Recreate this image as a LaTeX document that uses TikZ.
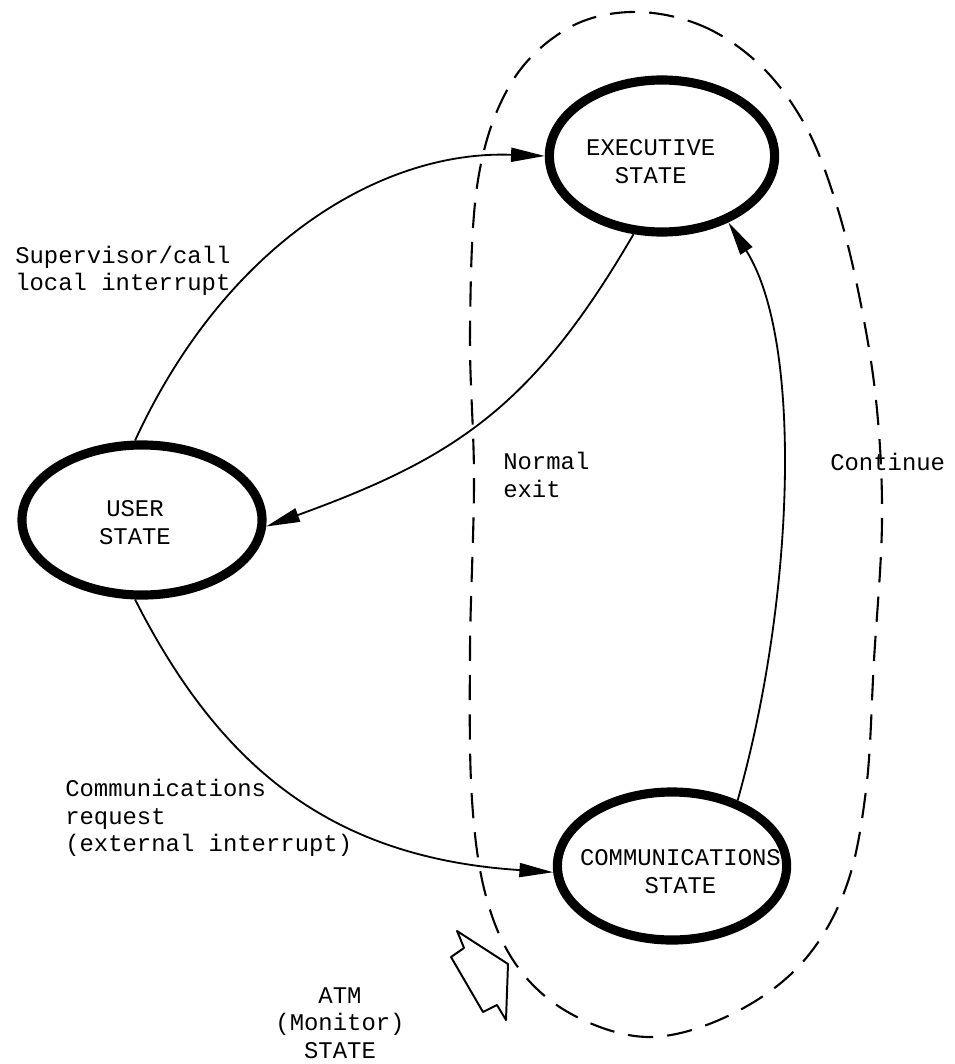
\documentclass[tikz,border=0pt]{standalone}
\usepackage{fontspec}
\setmonofont{Liberation Mono}
\usetikzlibrary{shapes.geometric,arrows.meta}

\begin{document}
\begin{tikzpicture}[x=0.025cm,y=-0.025cm,
    font=\ttfamily\fontsize{17}{19.6}\selectfont,
    >={Triangle[length=24pt,width=10pt]},
    state/.style={ellipse,draw,line width=6.5pt,inner sep=0pt,minimum height=3.75cm},
    link/.style={->,line width=1.3pt},
    note/.style={align=left,inner sep=0pt,anchor=west}]
  \useasboundingbox (0,0) rectangle (954,1064);
  % monitor region
  \draw[line width=1.5pt,dash pattern=on 18pt off 10pt]
    plot[smooth cycle,tension=0.6] coordinates {
      (630,12) (700,25) (760,65) (805,125) (835,200) (858,290) (876,400)
      (882,520) (874,660) (866,790) (845,890) (800,965) (730,1015)
      (650,1037) (575,1016) (520,970) (487,900) (472,800) (470,650)
      (474,480) (470,330) (478,180) (510,85) (565,30)};
  % states
  \node[state,minimum width=6cm,
    label={[align=center,xshift=-5pt,yshift=-2pt]center:USER\\STATE}] (user) at (142,520) {};
  \node[state,minimum width=5.63cm,minimum height=3.8cm,
    label={[align=center,xshift=-8pt,yshift=-4pt]center:EXECUTIVE\\STATE}] (exec) at (662,156) {};
  \node[state,minimum width=5.73cm,minimum height=3.7cm,
    label={[align=center,xshift=6pt,yshift=-4pt]center:COMMUNICATIONS\\STATE}] (comm) at (672,866) {};
  % transitions
  \draw[link] (user.95) .. controls (225,245) and (380,150) .. (exec.west);
  \draw[link] (exec.250) .. controls (533,407) and (455,458) .. (user.-3);
  \draw[link] (user.265) .. controls (221,769) and (333,858) .. (comm.183);
  \draw[link] (comm.45) .. controls (794,601) and (804,342) .. (exec.-45);
  % labels
  \node[note] (sup) at (15,271) {Supervisor/call\\local interrupt};
  \node[note] (req) at (65,818) {Communications\\request\\(external interrupt)};
  \node[note] (nex) at (503,475) {Normal\\exit};
  \node[note] (cont) at (830,462) {Continue};
  \node[align=center,inner sep=0pt] (atm) at (340,1023) {ATM\\(Monitor)\\STATE};
  % hollow pointer
  \draw[line width=1.4pt,line join=round] (457,931) -- (508,964) -- (506,1020)
    -- (497,1005) -- (483,1012) -- (451,957) -- (464,948) -- (460,938) -- cycle;
\end{tikzpicture}
\end{document}
